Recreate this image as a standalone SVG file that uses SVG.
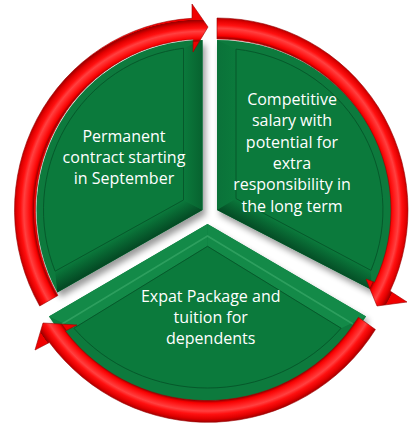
<svg xmlns="http://www.w3.org/2000/svg" xmlns:xlink="http://www.w3.org/1999/xlink" width="411" height="426" viewBox="0 0 411 426">
<defs>
<filter id="sh" x="-15%" y="-15%" width="140%" height="140%">
<feGaussianBlur in="SourceAlpha" stdDeviation="3"/>
<feOffset dx="3" dy="5" result="o"/>
<feComponentTransfer><feFuncA type="linear" slope="0.4"/></feComponentTransfer>
<feMerge><feMergeNode/><feMergeNode in="SourceGraphic"/></feMerge>
</filter>
<radialGradient id="gTL" gradientUnits="userSpaceOnUse" cx="202.5" cy="210" r="214">
<stop offset="0" stop-color="#F00000"/>
<stop offset="0.785" stop-color="#F00000"/>
<stop offset="0.79" stop-color="#A00000"/>
<stop offset="0.80" stop-color="#F50000"/>
<stop offset="0.815" stop-color="#FF1A1A"/>
<stop offset="0.835" stop-color="#FF4040"/>
<stop offset="0.85" stop-color="#FF1010"/>
<stop offset="0.87" stop-color="#E00000"/>
<stop offset="0.882" stop-color="#B00000"/>
<stop offset="0.888" stop-color="#9A0000"/>
<stop offset="0.89" stop-color="#F00000"/>
<stop offset="1" stop-color="#F00000"/>
</radialGradient>
<radialGradient id="gTR" xlink:href="#gTL" href="#gTL" cx="217" cy="210" r="217.7"/>
<radialGradient id="gB" xlink:href="#gTL" href="#gTL" cx="207.5" cy="224" r="224"/>
<linearGradient id="gTLlow" gradientUnits="userSpaceOnUse" x1="123.8" y1="233.1" x2="132.5" y2="248.8">
<stop offset="0" stop-color="#0B7A3C"/><stop offset="1" stop-color="#044A24"/>
</linearGradient>
<linearGradient id="gTRlow" gradientUnits="userSpaceOnUse" x1="306.6" y1="236.2" x2="297.7" y2="253">
<stop offset="0" stop-color="#0B7A3C"/><stop offset="1" stop-color="#044A24"/>
</linearGradient>
<linearGradient id="gTLside" gradientUnits="userSpaceOnUse" x1="183.5" y1="0" x2="202.5" y2="0">
<stop offset="0" stop-color="#0B7A3C"/><stop offset="1" stop-color="#07622F"/>
</linearGradient>
<linearGradient id="gTRside" gradientUnits="userSpaceOnUse" x1="236" y1="0" x2="217" y2="0">
<stop offset="0" stop-color="#0B7A3C"/><stop offset="1" stop-color="#0A7239"/>
</linearGradient>
</defs>
<style>
.seg{fill:#0B7A3C;}
.inner{fill:#0B7A3C;stroke:#06592B;stroke-width:1;}
.light{fill:#138A48;}
.hl{fill:none;stroke:#3FAE6E;stroke-width:1.5;stroke-opacity:0.6;}
.lbl{font-family:"Open Sans","Liberation Sans",Arial,sans-serif;font-size:16px;fill:#FFFFFF;text-anchor:middle;}
.arrow{stroke:#9A0000;stroke-width:0.6;stroke-linejoin:miter;}
</style>

<g id="node-tl">
<path class="seg" filter="url(#sh)" d="M202.5 210 L57.3 292.4 A166 170 0 0 1 202.5 40 Z"/>
<polygon fill="url(#gTLside)" points="202.5,210 202.5,40 183.5,48.2 183.5,200"/>
<polygon fill="url(#gTLlow)" points="202.5,210 183.5,200 55.1,271.2 57.3,292.4"/>
<path class="inner" d="M183.5 200 L55.1 271.2 A159 163 0 0 1 183.5 48.2 Z"/>
<text class="lbl" x="124" y="141.5">Permanent</text>
<text class="lbl" x="124" y="162.8">contract starting</text>
<text class="lbl" x="124" y="184.1">in September</text>
</g>

<g id="node-tr">
<path class="seg" filter="url(#sh)" d="M217 210 L217 40 A175 170 0 0 1 371.5 289.8 Z"/>
<polygon fill="url(#gTRside)" points="217,210 217,40 236,49.1 236,198.6"/>
<polygon fill="url(#gTRlow)" points="217,210 236,198.6 371,270.4 371.5,289.8"/>
<path class="inner" d="M236 198.6 L236 49.1 A166 162 0 0 1 371 270.4 Z"/>
<text class="lbl" x="292" y="105">Competitive</text>
<text class="lbl" x="292" y="126.3">salary with</text>
<text class="lbl" x="292" y="147.6">potential for</text>
<text class="lbl" x="292" y="168.9">extra</text>
<text class="lbl" x="292" y="190.2">responsibility in</text>
<text class="lbl" x="292" y="211.5">the long term</text>
</g>

<g id="node-b">
<path class="seg" filter="url(#sh)" d="M207.5 224 L366.1 316.5 A186 177 0 0 1 48.9 316.5 Z"/>
<polygon class="light" points="207.5,224 366.1,316.5 341.1,328.2 207.5,246.3"/>
<polygon class="light" points="207.5,224 48.9,316.5 73.9,328.2 207.5,246.3"/>
<path class="hl" d="M353 324 L207.5 236 L62 324"/>
<path class="inner" d="M207.5 246.3 L341.1 328.2 A173 164 0 0 1 73.9 328.2 Z"/>
<text class="lbl" x="210.7" y="301.7">Expat Package and</text>
<text class="lbl" x="210.7" y="323">tuition for</text>
<text class="lbl" x="210.7" y="344.3">dependents</text>
</g>

<g id="connectors">
<path id="arrow-tl" class="arrow" fill="url(#gTL)" d="M57.9 295.5 A167 171 0 0 1 193.2 39.3 L193 52 L208 27 L192 4 L192 18.3 A188 192 0 0 0 39.7 306 Z"/>
<path id="arrow-tr" class="arrow" fill="url(#gTR)" d="M217 39 A174 171 0 0 1 374.7 282.3 L366 279 L377 306 L407 302 L390.1 291.1 A191 192 0 0 0 217 18 Z"/>
<path id="arrow-b" class="arrow" fill="url(#gB)" d="M358.4 317.3 A178 176 0 0 1 65.3 331 L77 325 L43 323 L35 350 L49.4 342.5 A198 199 0 0 0 375.4 329.5 Z"/>
</g>
</svg>
